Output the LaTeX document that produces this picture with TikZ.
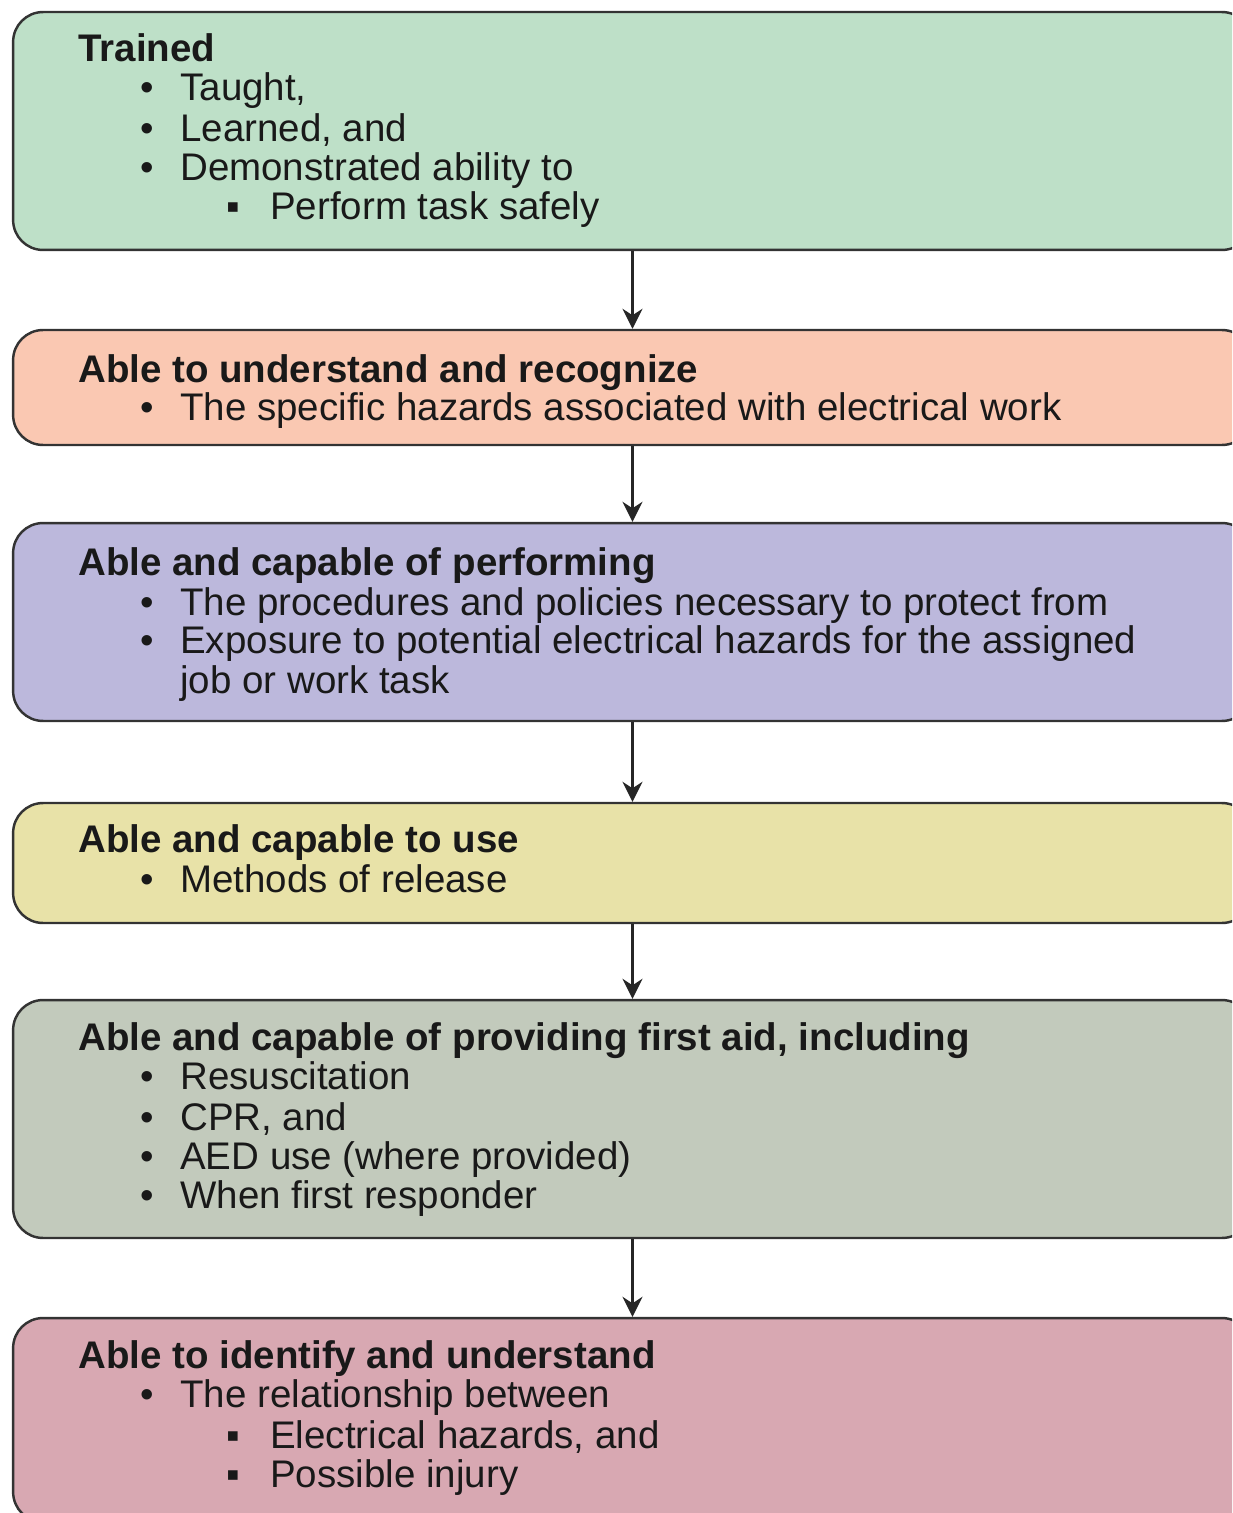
\documentclass[tikz,border=0pt]{standalone}
\usepackage{fontspec}
\setmainfont{Liberation Sans}
\usetikzlibrary{arrows.meta}

\definecolor{traincol}{HTML}{BEE0C8}
\definecolor{recogcol}{HTML}{FAC8B2}
\definecolor{performcol}{HTML}{BCB8DC}
\definecolor{releasecol}{HTML}{E8E2A8}
\definecolor{aidcol}{HTML}{C2CABC}
\definecolor{identcol}{HTML}{D8A8B2}

\newcommand{\bul}{\makebox[0.8cm][l]{•}}
\newcommand{\sbul}{\makebox[0.88cm][l]{▪}}

\begin{document}
\begin{tikzpicture}[x=0.02cm,y=-0.02cm,
    box/.style={draw=black!80,line width=1.4pt,rounded corners=0.6cm,
      minimum width=24.78cm,inner sep=0pt},
    txt/.style={anchor=base west,inner sep=0pt,text=black!90,
      font=\fontsize{21.9}{24}\selectfont},
    head/.style={txt,font=\fontsize{21.9}{24}\selectfont\bfseries},
    link/.style={-{Stealth[length=0.4cm,width=0.4cm]},line width=1.3pt,draw=black!85}]
  \useasboundingbox (0,0) rectangle (1232,1513);
  \clip (0,0) rectangle (1232,1513);

  % boxes
  \node [box, fill=traincol, minimum height=4.76cm] (trained) at (632.5,131) {};
  \node [box, fill=recogcol, minimum height=2.3cm] (recognize) at (632.5,387.5) {};
  \node [box, fill=performcol, minimum height=3.96cm] (perform) at (632.5,622) {};
  \node [box, fill=releasecol, minimum height=2.4cm] (release) at (632.5,863) {};
  \node [box, fill=aidcol, minimum height=4.76cm] (firstaid) at (632.5,1119) {};
  \node [box, fill=identcol, minimum height=4.08cm] (identify) at (632.5,1420) {};

  % arrows
  \draw [link] (trained) -- (recognize);
  \draw [link] (recognize) -- (perform);
  \draw [link] (perform) -- (release);
  \draw [link] (release) -- (firstaid);
  \draw [link] (firstaid) -- (identify);

  % Trained
  \node [head] (trainedhead) at (78,62) {Trained};
  \node [txt] (trained1) at (140,101) {\bul Taught,};
  \node [txt] (trained2) at (140,142) {\bul Learned, and};
  \node [txt] (trained3) at (140,181) {\bul Demonstrated ability to};
  \node [txt] (trained4) at (226,220) {\sbul Perform task safely};

  % Recognize
  \node [head] (recoghead) at (78,382) {Able to understand and recognize};
  \node [txt] (recog1) at (140,420) {\bul The specific hazards associated with electrical work};

  % Perform
  \node [head] (perfhead) at (78,575) {Able and capable of performing};
  \node [txt] (perf1) at (140,615) {\bul The procedures and policies necessary to protect from};
  \node [txt] (perf2) at (140,653) {\bul Exposure to potential electrical hazards for the assigned};
  \node [txt] (perf3) at (180,693) {job or work task};

  % Release
  \node [head] (relhead) at (78,852) {Able and capable to use};
  \node [txt] (rel1) at (140,892) {\bul Methods of release};

  % First aid
  \node [head] (aidhead) at (78,1050) {Able and capable of providing first aid, including};
  \node [txt] (aid1) at (140,1089) {\bul Resuscitation};
  \node [txt] (aid2) at (140,1130) {\bul CPR, and};
  \node [txt] (aid3) at (140,1169) {\bul AED use (where provided)};
  \node [txt] (aid4) at (140,1208) {\bul When first responder};

  % Identify
  \node [head] (identhead) at (78,1368) {Able to identify and understand};
  \node [txt] (ident1) at (140,1407) {\bul The relationship between};
  \node [txt] (ident2) at (226,1448) {\sbul Electrical hazards, and};
  \node [txt] (ident3) at (226,1487) {\sbul Possible injury};
\end{tikzpicture}
\end{document}
